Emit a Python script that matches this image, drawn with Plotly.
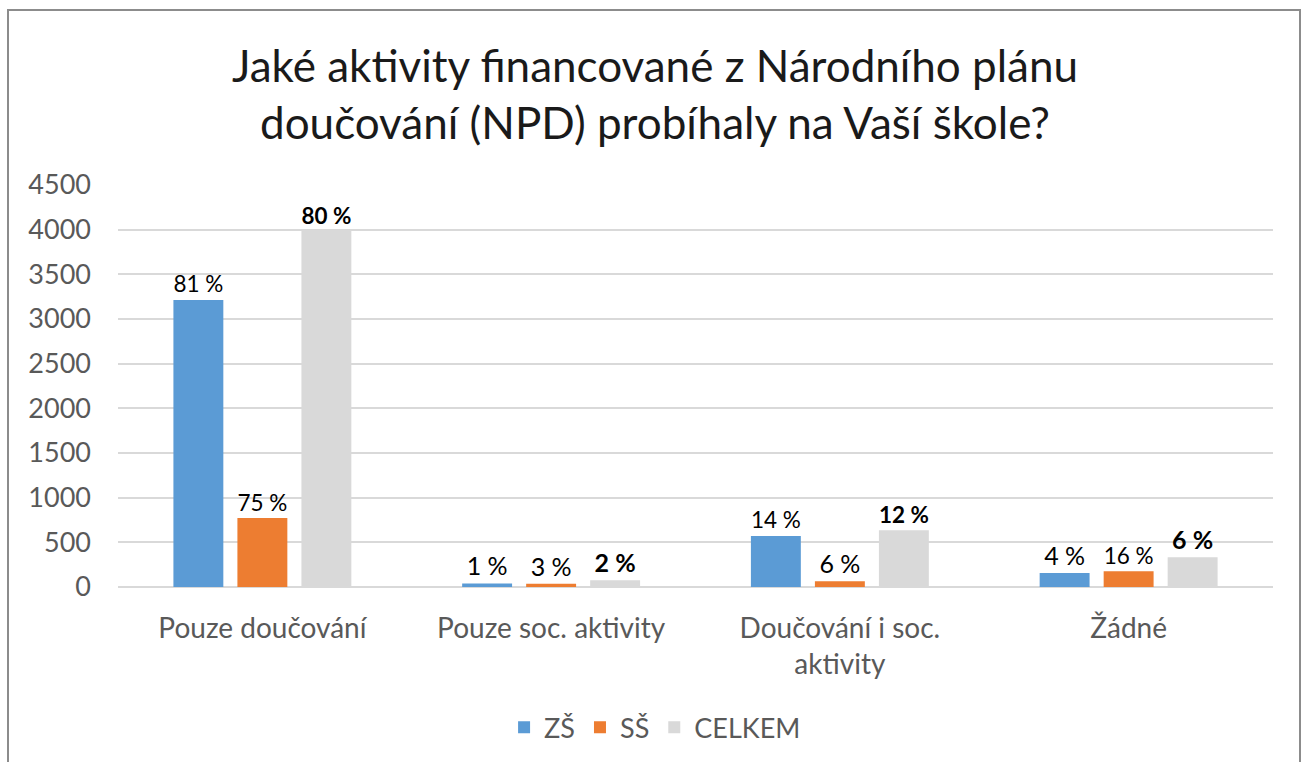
import plotly.graph_objects as go

# ── data ──────────────────────────────────────────────
categories = ["Pouze doučování", "Pouze soc. aktivity", "Doučování i soc.<br>aktivity", "Žádné"]
zs_values = [3213, 40, 571, 157]
ss_values = [772, 35, 65, 175]
celkem_values = [3985, 75, 636, 332]
zs_labels = ["81 %", "1 %", "14 %", "4 %"]
ss_labels = ["75 %", "3 %", "6 %", "16 %"]
celkem_labels = ["80 %", "2 %", "12 %", "6 %"]
y_ticks = [0, 500, 1000, 1500, 2000, 2500, 3000, 3500, 4000, 4500]

FONT = "Lato, 'Open Sans', sans-serif"
GRID = "#d9d9d9"
TICK = "#595959"

W, H = 1303, 762
L, R, T, B = 118, 30, 185, 175

fig = go.Figure()
series = [
    ("ZŠ", zs_values, zs_labels, "#5b9bd5", False),
    ("SŠ", ss_values, ss_labels, "#ed7d31", False),
    ("CELKEM", celkem_values, celkem_labels, "#d9d9d9", True),
]
for name, vals, labels, color, bold in series:
    fig.add_trace(go.Bar(
        x=categories,
        y=vals,
        name=name,
        marker=dict(color=color, line=dict(width=0)),
        text=[f"<b>{t}</b>" if bold else t for t in labels],
        textposition="outside",
        textfont=dict(size=25, color="#000000", family=FONT),
        cliponaxis=False,
    ))

# chart frame (pixel -> paper coords)
pw, ph = W - L - R, H - T - B
fig.add_shape(
    type="rect", xref="paper", yref="paper",
    x0=(8 - L) / pw, x1=(1300 - L) / pw,
    y0=(ph + T - 790) / ph, y1=(ph + T - 10) / ph,
    line=dict(color="#8c8c8c", width=2), fillcolor="rgba(0,0,0,0)",
    layer="below",
)

fig.update_layout(
    width=W, height=H,
    paper_bgcolor="white", plot_bgcolor="white",
    margin=dict(l=L, r=R, t=T, b=B, autoexpand=False),
    title=dict(
        text="Jaké aktivity financované z Národního plánu<br>doučování (NPD) probíhaly na Vaší škole?",
        x=655 / W, xref="container", xanchor="center",
        y=1 - 82 / H, yanchor="middle",
        font=dict(size=44, color="#1a1a1a", family=FONT),
    ),
    barmode="group",
    bargap=0.335,
    bargroupgap=0.22,
    font=dict(family=FONT, color=TICK),
    xaxis=dict(
        showgrid=False, showline=False, ticks="",
        tickfont=dict(size=28, color=TICK),
        ticklabelstandoff=22,
    ),
    yaxis=dict(
        range=[0, 4500], tickvals=y_ticks,
        gridcolor=GRID, gridwidth=1.5,
        zeroline=True, zerolinecolor=GRID, zerolinewidth=1.5,
        showline=False, ticks="",
        tickfont=dict(size=27, color=TICK),
        ticklabelstandoff=26,
    ),
    legend=dict(
        orientation="h", x=0.465, xanchor="center", y=-0.35, yanchor="middle",
        font=dict(size=27, color=TICK),
        itemwidth=30, traceorder="normal",
    ),
    showlegend=True,
)

fig.write_html(
    "out.html",
    config={"displayModeBar": False},
    post_script="document.body.style.margin='0px';",
)
